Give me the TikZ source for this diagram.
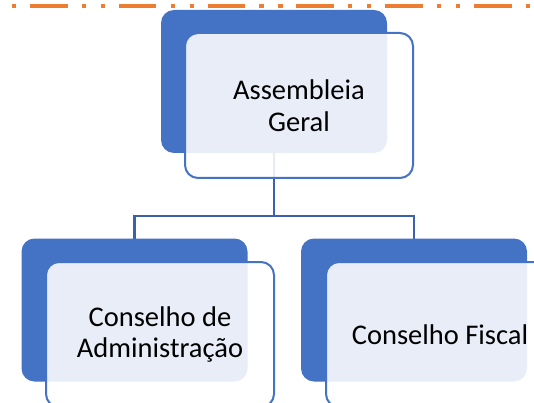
\documentclass[tikz,border=0pt]{standalone}
\usepackage{fontspec}
\setmainfont{Carlito}
\usetikzlibrary{backgrounds}
\definecolor{accentblue}{RGB}{68,114,196}
\definecolor{linkblue}{RGB}{59,97,170}
\definecolor{accentorange}{RGB}{237,125,49}
\begin{document}
\begin{tikzpicture}[x=1pt, y=-1pt,
    backbox/.style={rectangle, rounded corners=13pt, fill=accentblue, inner sep=0pt,
      minimum width=226pt, minimum height=143pt},
    frontbox/.style={rectangle, rounded corners=13pt, draw=accentblue, line width=2pt,
      fill=white, fill opacity=0.88, text opacity=1, align=center,
      minimum width=228pt, minimum height=145pt, font=\fontsize{28.5}{31.5}\selectfont},
    link/.style={draw=linkblue, line width=2.5pt}]
          \useasboundingbox (0,0) rectangle (534,403);
          \clip (0,0) rectangle (534,403);
          % dash-dot-dot rule on top
          \draw [accentorange, line width=4pt,
                 dash pattern=on 4.2pt off 13.8pt on 37.5pt off 14.3pt on 4.2pt off 14.8pt]
                (12,5.7) -- (540,5.7);
          % boxes
          \node[backbox] (geralBack) at (274,81.5) {};
          \node[frontbox] (geral) at (299,105.5) {Assembleia\\Geral};
          \node[backbox] (adminBack) at (134.5,310) {};
          \node[frontbox] (admin) at (160,334.5) {Conselho de\\Administração};
          \node[backbox] (fiscalBack) at (414,310) {};
          \node[frontbox] (fiscal) at (440,334.5) {Conselho Fiscal};
          % connectors behind the boxes
          \begin{pgfonlayer}{background}
              \coordinate (bus) at (274,216);
              \draw [link] (geralBack.center) -- (bus);
              \draw [link] (bus) -| (adminBack.center);
              \draw [link] (bus) -| (fiscalBack.center);
          \end{pgfonlayer}
      \end{tikzpicture}
\end{document}
